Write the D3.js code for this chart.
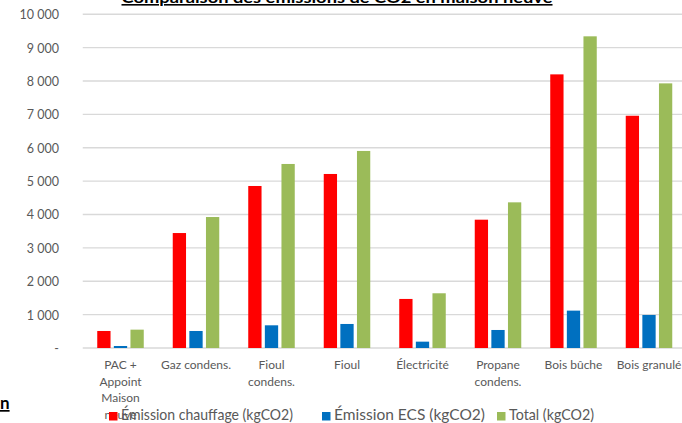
<!DOCTYPE html>
<html>
<head>
<meta charset="utf-8">
<script src="https://cdn.jsdelivr.net/npm/d3@7"></script>
<style>
  html, body { margin: 0; padding: 0; background: #fff; overflow: hidden; }
  svg { display: block; font-family: Lato, "Open Sans", sans-serif; }
</style>
</head>
<body>
<svg id="chart" width="682" height="423"></svg>
<script>
// Emissions de CO2 par mode de chauffage (kgCO2 / an)
const categories = [
  "PAC +\nAppoint\nMaison\nneuve",
  "Gaz condens.",
  "Fioul\ncondens.",
  "Fioul",
  "Électricité",
  "Propane\ncondens.",
  "Bois bûche",
  "Bois granulé"
];
const chauffage = [510, 3445, 4855, 5215, 1470, 3845, 8200, 6960];
const ecs = [60, 510, 680, 720, 190, 540, 1120, 990];
const total = [550, 3925, 5515, 5905, 1640, 4365, 9340, 7930];
const seriesNames = ["Émission chauffage (kgCO2)", "Émission ECS (kgCO2)", "Total (kgCO2)"];
const seriesColors = ["#ff0000", "#0070c0", "#9bbb59"];
const yTicks = [0, 1000, 2000, 3000, 4000, 5000, 6000, 7000, 8000, 9000, 10000];
const title = "Comparaison des émissions de CO2 en maison neuve";

const svg = d3.select("#chart");
const seriesData = [chauffage, ecs, total];

const y = d3.scaleLinear().domain([0, 10000]).range([348, 14.3]);
const x0 = d3.scaleBand().domain(categories).range([82.75, 686.75])
  .paddingInner(0.384).paddingOuter(0.192);
const x1 = d3.scaleBand().domain(seriesNames).range([0, x0.bandwidth()])
  .paddingInner(0.2).paddingOuter(0);

const fmt = v => v === 0 ? "-" : d3.format(",")(v).replace(/,/g, " ");

// Gridlines
svg.append("g").selectAll("line").data(yTicks).join("line")
  .attr("x1", 82.75).attr("x2", 682)
  .attr("y1", d => y(d)).attr("y2", d => y(d))
  .attr("stroke", "#d9d9d9").attr("stroke-width", 1.4);

// Y axis labels
const yAxis = d3.axisLeft(y).tickValues(yTicks).tickFormat(fmt).tickSize(0).tickPadding(0);
const gy = svg.append("g").attr("transform", "translate(59,0)").call(yAxis);
gy.select(".domain").remove();
gy.selectAll("text").attr("fill", "#595959").attr("font-size", "12.5px")
  .attr("font-family", "Lato, sans-serif").attr("dy", "0.35em");

// Bars
const groups = svg.append("g").selectAll("g").data(categories).join("g")
  .attr("transform", d => `translate(${x0(d)},0)`);
groups.selectAll("rect")
  .data((d, i) => seriesNames.map((s, k) => ({ s, k, v: seriesData[k][i] })))
  .join("rect")
  .attr("x", d => x1(d.s))
  .attr("width", x1.bandwidth())
  .attr("y", d => y(d.v))
  .attr("height", d => y(0) - y(d.v))
  .attr("fill", d => seriesColors[d.k]);

// X axis category labels (multi-line)
const xAxis = d3.axisBottom(x0).tickSize(0).tickFormat("");
const gx = svg.append("g").attr("transform", `translate(0,${y(0)})`).call(xAxis);
gx.select(".domain").remove();
gx.selectAll(".tick").each(function (d) {
  const t = d3.select(this).append("text")
    .attr("fill", "#595959").attr("font-size", "12px")
    .attr("font-family", "Lato, sans-serif").attr("text-anchor", "middle");
  d.split("\n").forEach((line, i) => {
    t.append("tspan").attr("x", 0).attr("y", 21 + i * 16.6).text(line);
  });
});

// Legend
const legendX = [109, 322, 497];
const legendTextLen = [172, 151, 85];
const lg = svg.append("g").selectAll("g").data(seriesNames).join("g")
  .attr("transform", (d, i) => `translate(${legendX[i]},0)`);
lg.append("rect").attr("x", 0).attr("y", 412).attr("width", 8.5).attr("height", 8.5)
  .attr("fill", (d, i) => seriesColors[i]);
lg.append("text").attr("x", 12).attr("y", 419.5)
  .attr("fill", "#595959").attr("font-size", "15px")
  .attr("textLength", (d, i) => legendTextLen[i]).attr("lengthAdjust", "spacingAndGlyphs")
  .text(d => d);

// Title (underlined, bold)
svg.append("text").attr("x", 337).attr("y", 3).attr("text-anchor", "middle")
  .attr("font-weight", "bold").attr("font-size", "16px").attr("fill", "#000")
  .attr("textLength", 431).attr("lengthAdjust", "spacingAndGlyphs")
  .attr("text-decoration", "underline")
  .text(title);

// Trailing fragment of the side caption
svg.append("text").attr("x", 0).attr("y", 409)
  .attr("font-weight", "bold").attr("font-size", "17px").attr("fill", "#000")
  .attr("text-decoration", "underline")
  .text("n");
</script>
</body>
</html>
